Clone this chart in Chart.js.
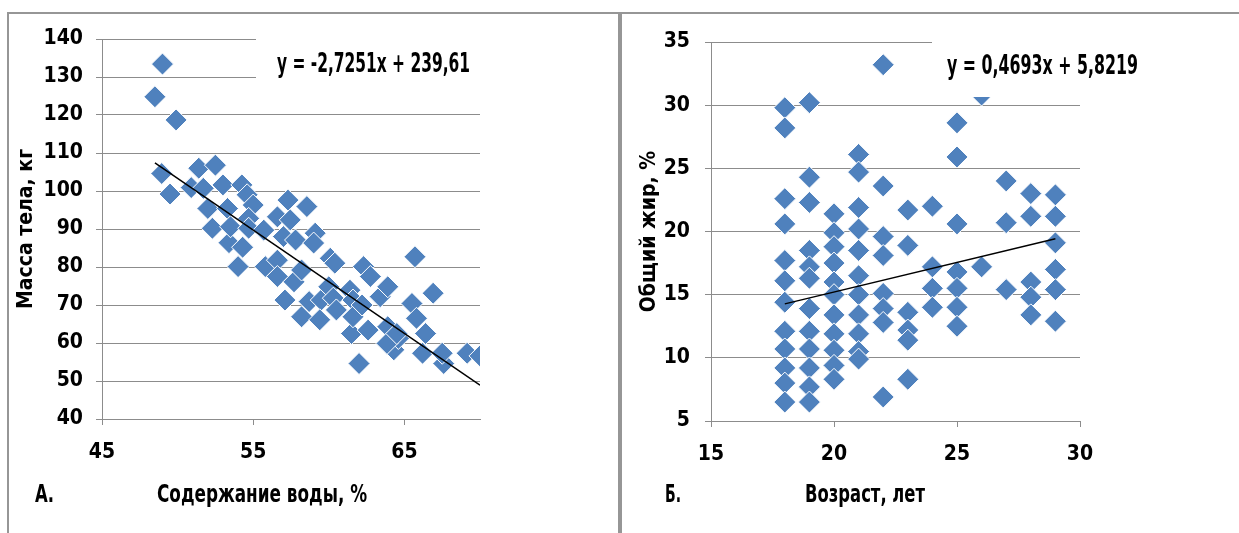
<!DOCTYPE html>
<html lang="ru">
<head>
<meta charset="utf-8">
<title>Состав тела</title>
<script src="https://cdn.jsdelivr.net/npm/chart.js@4.4.1/dist/chart.umd.min.js"></script>
<style>
  body { margin: 0; background: #fff; }
  #wrap { position: relative; width: 1239px; height: 533px; overflow: hidden; }
  .frame { position: absolute; border-top: 2px solid #969696; }
  #frameA { left: 7px; top: 12px; width: 611px; height: 540px; border-left: 2px solid #969696; }
  #frameB { left: 618px; top: 12px; width: 640px; height: 540px; border-left: 4px solid #969696; }
  canvas { position: absolute; top: 0; }
  #chartA { left: 0; }
  #chartB { left: 620px; }
</style>
</head>
<body>
<div id="wrap">
  <div class="frame" id="frameA"></div>
  <div class="frame" id="frameB"></div>
  <canvas id="chartA" width="620" height="533"></canvas>
  <canvas id="chartB" width="619" height="533"></canvas>
</div>
<script>
// --- A: water content (%) vs body mass (kg)
const waterContent = [
  49.0, 48.5, 49.9, 48.95, 49.5, 50.9, 51.4, 52.5, 51.7, 52.0,
  52.3, 53.0, 53.3, 53.4, 53.5, 54.0, 54.25, 54.6, 55.0, 54.7,
  54.7, 54.3, 55.8, 55.7, 56.6, 57.3, 57.0, 57.45, 57.8, 56.6,
  56.6, 57.1, 57.7, 58.2, 58.55, 59.1, 59.0, 58.2, 58.7, 59.5,
  59.4, 60.1, 60.4, 60.0, 60.3, 60.5, 61.4, 61.6, 61.5, 62.0,
  61.6, 62.3, 62.75, 62.6, 62.2, 63.4, 63.9, 63.9, 64.3, 64.6,
  63.85, 65.7, 65.5, 65.8, 66.2, 66.4, 66.9, 67.6, 67.5, 69.15,
  70.0, 64.5,
];
const bodyMass = [
  133.4, 124.8, 118.7, 104.6, 99.2, 100.9, 106.0, 106.8, 100.7, 95.4,
  90.2, 101.6, 95.4, 86.4, 90.6, 80.1, 101.6, 99.0, 96.3, 92.8,
  90.2, 85.2, 80.1, 89.7, 93.2, 97.6, 88.0, 92.4, 87.1, 81.8,
  77.5, 71.3, 76.1, 79.2, 95.9, 88.9, 86.3, 66.9, 70.9, 71.3,
  66.1, 82.3, 81.0, 74.8, 71.8, 68.7, 73.9, 71.3, 62.5, 54.6,
  66.9, 80.1, 77.5, 63.4, 70.0, 72.2, 74.8, 64.3, 58.2, 61.2,
  59.9, 82.7, 70.4, 66.5, 57.3, 62.5, 73.1, 54.6, 57.3, 57.3,
  56.6, 62.5,
];
const trendWaterX = [48.5, 70.0];
const trendWaterY = [107.4, 48.9];
const waterTicks = [45, 55, 65];

// --- B: age (years) vs total fat (%)
const ages = [18, 19, 20, 21, 22, 23, 24, 25, 26, 27, 28, 29];
const fatByAge = [
  [29.8, 28.2, 22.6, 20.6, 17.7, 16.1, 14.4, 12.1, 10.7, 9.2, 8.0, 6.5],
  [30.2, 24.3, 22.3, 18.5, 17.2, 16.3, 13.9, 12.1, 10.7, 9.2, 7.7, 6.5],
  [21.4, 19.9, 18.8, 17.5, 16.0, 15.0, 13.4, 11.9, 10.6, 9.4, 8.3],
  [26.1, 24.7, 21.9, 20.2, 18.5, 16.5, 15.0, 13.4, 11.9, 10.5, 9.9],
  [33.2, 23.6, 19.6, 18.1, 15.1, 13.9, 12.8, 6.9],
  [21.7, 18.9, 13.6, 12.2, 11.4, 8.3],
  [22.0, 17.2, 15.5, 14.0],
  [28.6, 25.9, 20.6, 16.8, 15.5, 14.0, 12.5],
  [30.8, 17.2],
  [24.0, 20.7, 15.4],
  [23.0, 21.2, 16.0, 14.8, 13.4],
  [22.9, 21.2, 19.1, 17.0, 15.4, 12.9],
];
const trendAgeX = [18, 29];
const trendAgeY = [14.27, 19.43];
const ageTicks = [15, 20, 25, 30];

const BLUE = "#4f81bd";
const GRID = "#8c8c8c";
const FONT = "'DejaVu Sans Condensed', 'DejaVu Sans', sans-serif";

const pointsA = waterContent.map((x, i) => ({ x, y: bodyMass[i] }));
const pointsB = [];
ages.forEach((a, i) => fatByAge[i].forEach((f) => pointsB.push({ x: a, y: f })));
const trendA = trendWaterX.map((x, i) => ({ x, y: trendWaterY[i] }));
const trendB = trendAgeX.map((x, i) => ({ x, y: trendAgeY[i] }));

// squeeze text horizontally into a given width (the original uses a narrow font)
function drawFitted(ctx, text, left, baseline, width) {
  const w = ctx.measureText(text).width;
  ctx.save();
  ctx.translate(left, baseline);
  ctx.scale(width / w, 1);
  ctx.textAlign = "left";
  ctx.fillText(text, 0, 0);
  ctx.restore();
}

// equation box (white, hides grid like the Excel label), panel letter and x caption
const panelText = {
  id: "panelText",
  afterDatasetsDraw(chart, args, o) {
    const ctx = chart.ctx;
    ctx.save();
    ctx.fillStyle = "#fff";
    ctx.fillRect(o.box[0], o.box[1], o.box[2], o.box[3]);
    ctx.fillStyle = "#000";
    ctx.font = "bold 26px " + FONT;
    ctx.textBaseline = "alphabetic";
    drawFitted(ctx, o.equation, o.eqX, o.eqY, o.eqW);
    ctx.restore();
  },
  afterDraw(chart, args, o) {
    const ctx = chart.ctx;
    ctx.save();
    ctx.fillStyle = "#000";
    ctx.font = "bold 24px " + FONT;
    ctx.textBaseline = "alphabetic";
    drawFitted(ctx, o.letter, o.letterX, o.captionY, o.letterW);
    drawFitted(ctx, o.caption, o.captionX - o.captionW / 2, o.captionY, o.captionW);
    ctx.restore();
  },
};

function makeChart(id, cfg) {
  return new Chart(document.getElementById(id), {
    type: "scatter",
    data: {
      datasets: [
        {
          type: "line",
          data: cfg.trend,
          borderColor: "#000",
          borderWidth: 1.5,
          pointRadius: 0,
          order: 0,
        },
        {
          data: cfg.points,
          pointStyle: "rectRot",
          pointRadius: 11,
          backgroundColor: BLUE,
          borderColor: "#fff",
          borderWidth: 1,
          order: 1,
        },
      ],
    },
    options: {
      responsive: false,
      animation: false,
      events: [],
      layout: { padding: cfg.padding },
      plugins: {
        legend: { display: false },
        tooltip: { enabled: false },
        panelText: cfg.text,
      },
      scales: {
        x: {
          type: "linear",
          min: cfg.xMin,
          max: cfg.xMax,
          afterBuildTicks: (axis) => {
            axis.ticks = cfg.xTicks.map((v) => ({ value: v }));
          },
          afterFit: (s) => {
            s.height = cfg.xHeight;
          },
          grid: { drawOnChartArea: false, color: GRID, tickLength: 6 },
          border: { color: GRID },
          ticks: {
            color: "#000",
            font: { family: FONT, size: 21, weight: "bold" },
            padding: 15,
          },
        },
        y: {
          min: cfg.yMin,
          max: cfg.yMax,
          afterFit: (s) => {
            s.width = cfg.yWidth;
          },
          grid: { color: GRID, tickLength: 6 },
          border: { color: GRID },
          ticks: {
            stepSize: cfg.yStep,
            color: "#000",
            font: { family: FONT, size: 21, weight: "bold" },
            padding: cfg.yTickPad,
          },
          title: {
            display: true,
            text: cfg.yTitle,
            color: "#000",
            font: { family: FONT, size: 21, weight: "bold" },
            padding: { top: cfg.yTitlePad, bottom: 0 },
          },
        },
      },
    },
    plugins: [panelText],
  });
}

makeChart("chartA", {
  points: pointsA,
  trend: trendA,
  xMin: 45, xMax: 70, xTicks: waterTicks,
  yMin: 40, yMax: 140, yStep: 10,
  yTitle: "Масса тела, кг",
  padding: { left: 0, top: 39, right: 140, bottom: 0 },
  yWidth: 102, xHeight: 114, yTickPad: 13, yTitlePad: 14,
  text: {
    box: [256, 26, 240, 60],
    equation: "y = -2,7251x + 239,61",
    eqX: 277, eqY: 72, eqW: 193,
    letter: "А.", letterX: 35, letterW: 19,
    caption: "Содержание воды, %", captionX: 262, captionY: 502, captionW: 210,
  },
});

makeChart("chartB", {
  points: pointsB,
  trend: trendB,
  xMin: 15, xMax: 30, xTicks: ageTicks,
  yMin: 5, yMax: 35, yStep: 5,
  yTitle: "Общий жир, %",
  padding: { left: 0, top: 42, right: 159, bottom: 0 },
  yWidth: 91, xHeight: 112, yTickPad: 15, yTitlePad: 17,
  text: {
    box: [312, 28, 260, 69],
    equation: "y = 0,4693x + 5,8219",
    eqX: 327, eqY: 74, eqW: 191,
    letter: "Б.", letterX: 45, letterW: 16,
    caption: "Возраст, лет", captionX: 245, captionY: 502, captionW: 120,
  },
});
</script>
</body>
</html>
